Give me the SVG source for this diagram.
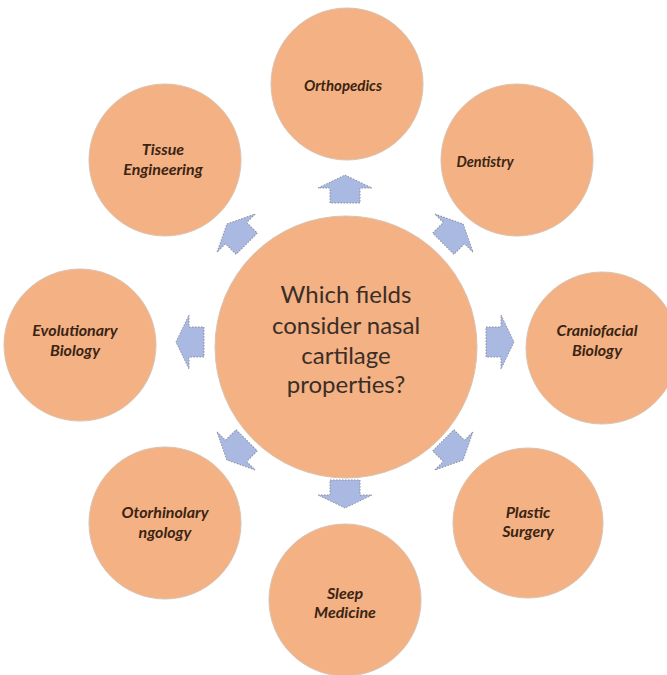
<svg xmlns="http://www.w3.org/2000/svg" width="667" height="675" viewBox="0 0 667 675">
<style>
.c{fill:#F4B183;stroke:#D8C3B3;stroke-width:1}
.l{font-family:Lato,"Open Sans",sans-serif;font-weight:bold;font-style:italic;font-size:16px;fill:#3A2414;text-anchor:middle}
.m{font-family:Lato,"Open Sans",sans-serif;font-size:24px;fill:#3A2E28;text-anchor:middle}
.a{fill:#AAB9E2;stroke:#8A8FA0;stroke-width:1;stroke-dasharray:1.5 1.5}
</style>
<defs>
<path id="arr" d="M0,-14 L27,-1 L15,-1 L15,14 L-15,14 L-15,-1 L-27,-1 Z"/>
</defs>
<rect width="667" height="675" fill="#FFFFFF"/>
<g id="connectors">
<use href="#arr" class="a" transform="translate(345,189)"/>
<use href="#arr" class="a" transform="translate(453.2,233.8) rotate(45)"/>
<use href="#arr" class="a" transform="translate(500,342) rotate(90)"/>
<use href="#arr" class="a" transform="translate(453.2,450.2) rotate(135)"/>
<use href="#arr" class="a" transform="translate(345,494) rotate(180)"/>
<use href="#arr" class="a" transform="translate(236.8,450.2) rotate(225)"/>
<use href="#arr" class="a" transform="translate(190,342) rotate(270)"/>
<use href="#arr" class="a" transform="translate(236.8,233.8) rotate(315)"/>
</g>
<g id="center">
<circle class="c" cx="346" cy="347" r="131"/>
<text class="m" x="346" y="303">Which fields</text>
<text class="m" x="346" y="334">consider nasal</text>
<text class="m" x="346" y="364">cartilage</text>
<text class="m" x="346" y="393">properties?</text>
</g>
<g id="orthopedics">
<circle class="c" cx="347" cy="84" r="76"/>
<text class="l" x="343" y="91" style="font-size:15px">Orthopedics</text>
</g>
<g id="dentistry">
<circle class="c" cx="517" cy="160" r="76"/>
<text class="l" x="485" y="167" style="font-size:14.5px">Dentistry</text>
</g>
<g id="craniofacial">
<circle class="c" cx="602" cy="348" r="76"/>
<text class="l" x="597" y="336">Craniofacial</text>
<text class="l" x="597" y="356">Biology</text>
</g>
<g id="plastic">
<circle class="c" cx="528" cy="523" r="75"/>
<text class="l" x="528" y="518">Plastic</text>
<text class="l" x="528" y="537">Surgery</text>
</g>
<g id="sleep">
<circle class="c" cx="345" cy="600" r="76"/>
<text class="l" x="345" y="599">Sleep</text>
<text class="l" x="345" y="618">Medicine</text>
</g>
<g id="otorhinolaryngology">
<circle class="c" cx="165" cy="523" r="76"/>
<text class="l" x="165" y="518">Otorhinolary</text>
<text class="l" x="165" y="538">ngology</text>
</g>
<g id="evolutionary">
<circle class="c" cx="80" cy="345" r="76"/>
<text class="l" x="75" y="336">Evolutionary</text>
<text class="l" x="75" y="356">Biology</text>
</g>
<g id="tissue">
<circle class="c" cx="165" cy="160" r="76"/>
<text class="l" x="163" y="155">Tissue</text>
<text class="l" x="163" y="175">Engineering</text>
</g>
</svg>
